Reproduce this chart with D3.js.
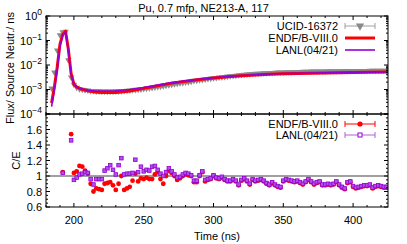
<!DOCTYPE html>
<html><head><meta charset="utf-8">
<script src="https://cdn.jsdelivr.net/npm/d3@7"></script>
<style>body{margin:0;background:#fff}svg{display:block;font-family:"Liberation Sans",Arial,sans-serif}</style>
</head><body><svg id="c" width="407" height="244"></svg>
<script>
// ---------- data ----------
const title = "Pu, 0.7 mfp, NE213-A, 117";
const xTicks = [200, 250, 300, 350, 400];
const yTopTicks = [-4, -3, -2, -1, 0];
const yBotTicks = [0.6, 0.8, 1, 1.2, 1.4, 1.6];

// experiment (UCID-16372)
const expTimes = [184,186,188,190,192,194,196,198,200,202,204,206,208,210,212,214,216,218,220,222,224,226,228,230,232,234,236,238,240,242,244,246,248,250,252,254,256,258,260,262,264,266,268,270,272,274,276,278,280,282,284,286,288,290,292,294,296,298,300,302,304,306,308,310,312,314,316,318,320,322,324,326,328,330,332,334,336,338,340,342,344,346,348,350,352,354,356,358,360,362,364,366,368,370,372,374,376,378,380,382,384,386,388,390,392,394,396,398,400,402,404,406,408,410,412,414,416,418,420,422,424];
const expFlux = [1.12e-3,5.0e-3,0.040,0.166,0.219,0.229,0.0158,3.16e-3,1.58e-3,1.20e-3,1.05e-3,1.00e-3,9.5e-4,9.3e-4,8.9e-4,8.9e-4,8.5e-4,8.5e-4,8.3e-4,8.3e-4,8.3e-4,8.3e-4,8.3e-4,8.5e-4,8.5e-4,8.7e-4,8.9e-4,9.1e-4,9.3e-4,9.5e-4,9.8e-4,1.00e-3,1.02e-3,1.07e-3,1.10e-3,1.15e-3,1.17e-3,1.23e-3,1.29e-3,1.32e-3,1.38e-3,1.45e-3,1.51e-3,1.58e-3,1.66e-3,1.74e-3,1.82e-3,1.86e-3,1.95e-3,2.04e-3,2.14e-3,2.29e-3,2.34e-3,2.45e-3,2.51e-3,2.63e-3,2.75e-3,2.82e-3,2.95e-3,3.02e-3,3.16e-3,3.24e-3,3.31e-3,3.47e-3,3.55e-3,3.63e-3,3.72e-3,3.89e-3,3.98e-3,4.07e-3,4.17e-3,4.27e-3,4.37e-3,4.47e-3,4.47e-3,4.57e-3,4.68e-3,4.68e-3,4.79e-3,4.79e-3,4.90e-3,5.01e-3,5.01e-3,5.01e-3,5.13e-3,5.13e-3,5.13e-3,5.25e-3,5.25e-3,5.25e-3,5.37e-3,5.37e-3,5.37e-3,5.50e-3,5.50e-3,5.50e-3,5.50e-3,5.50e-3,5.50e-3,5.62e-3,5.62e-3,5.62e-3,5.62e-3,5.62e-3,5.62e-3,5.75e-3,5.75e-3,5.75e-3,5.75e-3,5.75e-3,5.75e-3,5.75e-3,5.75e-3,5.75e-3,5.89e-3,5.89e-3,5.89e-3,5.89e-3,5.89e-3,5.89e-3,5.89e-3];

// calculations (flux)
const calcTimes = [184,186,188,190,192,194,196,198,200,202,205,210,215,220,230,240,250,260,270,280,290,300,310,320,330,340,350,360,370,380,390,400,410,425];
const endfFlux = [2.8e-4,1.26e-3,7.9e-3,0.071,0.178,0.240,0.0447,4.47e-3,1.66e-3,1.26e-3,1.05e-3,8.9e-4,7.9e-4,7.6e-4,7.6e-4,8.7e-4,1.12e-3,1.41e-3,1.82e-3,2.19e-3,2.57e-3,2.95e-3,3.31e-3,3.63e-3,3.89e-3,4.17e-3,4.37e-3,4.47e-3,4.57e-3,4.68e-3,4.79e-3,4.90e-3,5.01e-3,5.13e-3];
const lanlFlux = [2.0e-4,1.00e-3,6.3e-3,0.056,0.158,0.229,0.0398,4.17e-3,1.58e-3,1.26e-3,1.07e-3,9.3e-4,8.7e-4,8.7e-4,8.9e-4,1.00e-3,1.20e-3,1.51e-3,1.91e-3,2.24e-3,2.63e-3,3.02e-3,3.39e-3,3.72e-3,3.98e-3,4.27e-3,4.47e-3,4.57e-3,4.68e-3,4.79e-3,4.90e-3,5.01e-3,5.13e-3,5.25e-3];

// C/E
const ceTimes = [192,198,200,202,204,206,208,210,212,214,216,218,220,222,224,226,228,230,232,234,236,238,240,242,244,246,248,250,252,254,256,258,260,262,264,266,268,270,272,274,276,278,280,282,284,286,288,290,292,294,296,298,300,302,304,306,308,310,312,314,316,318,320,322,324,326,328,330,332,334,336,338,340,342,344,346,348,350,352,354,356,358,360,362,364,366,368,370,372,374,376,378,380,382,384,386,388,390,392,394,396,398,400,402,404,406,408,410,412,414,416,418,420,422,424];
const ceEndf = [1.05,1.54,1.04,1.06,1.13,1.12,1.07,1.03,0.90,0.80,0.84,0.83,0.82,0.90,0.91,0.92,0.88,0.82,0.90,1.00,0.82,0.84,0.86,0.94,1.03,0.93,0.97,0.96,0.98,0.96,0.96,1.02,1.05,0.96,0.90,1.00,1.07,1.04,1.00,0.95,0.97,1.00,1.02,1.01,1.00,0.92,0.92,1.00,1.05,0.93,0.95,0.96,1.00,0.97,0.96,0.98,0.95,0.93,0.93,0.95,0.93,0.88,0.94,0.96,0.93,0.89,0.95,0.93,0.94,0.95,0.93,0.90,0.88,0.91,0.88,0.86,0.85,0.93,0.95,0.94,0.93,0.92,0.93,0.91,0.89,0.92,0.95,0.92,0.89,0.91,0.92,0.88,0.88,0.89,0.88,0.89,0.92,0.88,0.85,0.83,0.91,0.92,0.86,0.84,0.85,0.86,0.87,0.87,0.88,0.84,0.86,0.87,0.86,0.85,0.85];
const ceLanl = [1.04,1.46,0.95,0.98,1.02,1.03,1.05,1.04,0.96,0.89,0.96,0.96,0.96,1.07,1.10,1.14,1.08,1.02,1.14,1.23,1.02,1.03,1.03,1.04,1.21,1.05,1.12,1.06,1.08,1.07,1.12,1.13,1.08,1.03,1.00,1.05,1.10,1.06,1.02,0.98,0.99,1.02,1.04,1.03,1.01,0.94,0.94,1.01,1.06,0.95,0.96,0.97,1.01,0.98,0.97,0.99,0.96,0.94,0.94,0.96,0.94,0.89,0.95,0.97,0.94,0.90,0.96,0.94,0.95,0.96,0.94,0.91,0.89,0.92,0.89,0.87,0.86,0.94,0.96,0.95,0.94,0.93,0.94,0.92,0.90,0.93,0.96,0.93,0.90,0.92,0.93,0.89,0.89,0.90,0.89,0.90,0.93,0.89,0.86,0.84,0.92,0.93,0.87,0.85,0.86,0.87,0.88,0.88,0.89,0.85,0.87,0.88,0.87,0.86,0.86];

// ---------- drawing ----------
const svg = d3.select("#c");
const L = 46, R = 388, T1 = 16, B1 = 114, T2 = 114, B2 = 207;
const FS = 11;
const RED = "#ff0000", PUR = "#9400d3", GRY = "#8a8a8a";

const x = d3.scaleLinear().domain([180, 425]).range([L, R]);
const yT = d3.scaleLog().domain([1e-4, 1]).range([B1, T1]);
const yB = d3.scaleLinear().domain([0.6, 1.8]).range([B2, T2]);

const defs = svg.append("defs");
defs.append("clipPath").attr("id","cp1").append("rect").attr("x",L).attr("y",T1).attr("width",R-L).attr("height",B1-T1);
defs.append("clipPath").attr("id","cp2").append("rect").attr("x",L).attr("y",T2).attr("width",R-L).attr("height",B2-T2);

// title
svg.append("text").attr("x", 203.5).attr("y", 12).attr("text-anchor","middle")
  .attr("font-size", FS).text(title);

// ---- top panel
const g1 = svg.append("g").attr("clip-path","url(#cp1)");
const tri = d3.symbol().type(d3.symbolTriangle).size(18);
const expPts = expTimes.map((t,i)=>({t, v:expFlux[i]}));
g1.selectAll(".eb").data(expPts).join("line")
  .attr("x1", d=>x(d.t)).attr("x2", d=>x(d.t))
  .attr("y1", d=>yT(d.v*1.12)).attr("y2", d=>yT(d.v/1.12))
  .attr("stroke", GRY).attr("stroke-width", 1);
g1.selectAll(".tri").data(expPts).join("path")
  .attr("d", tri).attr("fill", GRY)
  .attr("transform", d=>`translate(${x(d.t)},${yT(d.v)}) rotate(180)`);

const lineT = d3.line().x(d=>x(d[0])).y(d=>yT(d[1]));
g1.append("path").attr("d", lineT(calcTimes.map((t,i)=>[t, endfFlux[i]])))
  .attr("fill","none").attr("stroke",RED).attr("stroke-width",3).attr("stroke-linejoin","round");
g1.append("path").attr("d", lineT(calcTimes.map((t,i)=>[t, lanlFlux[i]])))
  .attr("fill","none").attr("stroke",PUR).attr("stroke-width",1.6).attr("stroke-linejoin","round");

// ---- bottom panel
const g2 = svg.append("g").attr("clip-path","url(#cp2)");
g2.append("line").attr("x1",L).attr("x2",R).attr("y1",yB(1)).attr("y2",yB(1))
  .attr("stroke","#a0a0a0").attr("stroke-width",2);
g2.selectAll(".ce1").data(ceTimes.map((t,i)=>({t, v:ceEndf[i]}))).join("circle")
  .attr("cx", d=>x(d.t)).attr("cy", d=>yB(d.v)).attr("r", 2.4).attr("fill", RED);
g2.selectAll(".ce2").data(ceTimes.map((t,i)=>({t, v:ceLanl[i]}))).join("rect")
  .attr("x", d=>x(d.t)-1.8).attr("y", d=>yB(d.v)-1.8).attr("width",3.6).attr("height",3.6)
  .attr("fill", "#b050e8").attr("stroke", PUR).attr("stroke-width",0.8);

// ---- frames and ticks
const axG = svg.append("g").attr("stroke","#000").attr("stroke-width",1).attr("fill","none");
axG.append("rect").attr("x",L).attr("y",T1).attr("width",R-L).attr("height",B1-T1);
axG.append("rect").attr("x",L).attr("y",T2).attr("width",R-L).attr("height",B2-T2);

const xMinor = d3.range(180, 426, 10);
function xTicksOn(yEdge, dir) {
  xMinor.forEach(v => {
    const major = v % 50 === 0;
    const len = major ? 4 : 2;
    axG.append("line").attr("x1",x(v)).attr("x2",x(v)).attr("y1",yEdge).attr("y2",yEdge+dir*len);
  });
}
xTicksOn(B1, -1); xTicksOn(T2, 1); xTicksOn(B2, -1); xTicksOn(T1, 1);

yTopTicks.forEach(e => {
  const v = Math.pow(10, e);
  [L, R].forEach((xe, k) => {
    const d = k === 0 ? 1 : -1;
    axG.append("line").attr("x1",xe).attr("x2",xe+d*4).attr("y1",yT(v)).attr("y2",yT(v));
    if (e < 0) for (let m = 2; m <= 9; m++) {
      axG.append("line").attr("x1",xe).attr("x2",xe+d*2).attr("y1",yT(m*v)).attr("y2",yT(m*v));
    }
  });
});
d3.range(0.6, 1.8001, 0.05).forEach(v => {
  const vr = Math.round(v*100)/100;
  const major = Math.round(vr*100) % 20 === 0;
  [L, R].forEach((xe, k) => {
    const d = k === 0 ? 1 : -1;
    axG.append("line").attr("x1",xe).attr("x2",xe+d*(major?4:2)).attr("y1",yB(vr)).attr("y2",yB(vr));
  });
});

// ---- tick labels
const lab = svg.append("g").attr("font-size", FS).attr("fill","#000");
xTicks.forEach(v => lab.append("text").attr("x", x(v)).attr("y", 224).attr("text-anchor","middle").text(v));
yBotTicks.forEach(v => lab.append("text").attr("x", 42).attr("y", yB(v)+4).attr("text-anchor","end").text(v));
yTopTicks.forEach(e => {
  const t = lab.append("text").attr("x", 42).attr("y", yT(Math.pow(10,e))+4).attr("text-anchor","end");
  t.append("tspan").text("10");
  t.append("tspan").attr("dy", -5).attr("font-size", 8.5).text(e === 0 ? "0" : "\u2212" + (-e));
});

// axis titles
svg.append("text").attr("transform", `translate(14,${(T1+B1)/2+3}) rotate(-90)`)
  .attr("text-anchor","middle").attr("font-size", FS).text("Flux/ Source Neutr./ ns");
svg.append("text").attr("transform", `translate(20,${(T2+B2)/2}) rotate(-90)`)
  .attr("text-anchor","middle").attr("font-size", FS).text("C/E");
svg.append("text").attr("x", (L+R)/2).attr("y", 240).attr("text-anchor","middle")
  .attr("font-size", FS).text("Time (ns)");

// ---- legends
const lg = svg.append("g").attr("font-size", FS);
const sx1 = 345, sx2 = 375, smid = 360;
function legText(y, s) { lg.append("text").attr("x", 338).attr("y", y+4).attr("text-anchor","end").text(s); }
function caps(y, col) {
  [sx1, sx2].forEach(xx => lg.append("line").attr("x1",xx).attr("x2",xx).attr("y1",y-3).attr("y2",y+3).attr("stroke",col).attr("stroke-width",1));
}
legText(26, "UCID-16372");
lg.append("line").attr("x1",sx1).attr("x2",sx2).attr("y1",26).attr("y2",26).attr("stroke","#a0a0a0").attr("stroke-width",1);
caps(26, "#a0a0a0");
lg.append("path").attr("d", d3.symbol().type(d3.symbolTriangle).size(30)).attr("fill", GRY)
  .attr("transform", `translate(${smid},26) rotate(180)`);
legText(38, "ENDF/B-VIII.0");
lg.append("line").attr("x1",sx1).attr("x2",sx2).attr("y1",38).attr("y2",38).attr("stroke",RED).attr("stroke-width",3);
legText(50, "LANL(04/21)");
lg.append("line").attr("x1",sx1).attr("x2",sx2).attr("y1",50).attr("y2",50).attr("stroke",PUR).attr("stroke-width",1.6);
legText(124, "ENDF/B-VIII.0");
lg.append("line").attr("x1",sx1).attr("x2",sx2).attr("y1",124).attr("y2",124).attr("stroke",RED).attr("stroke-width",1);
caps(124, RED);
lg.append("circle").attr("cx",smid).attr("cy",124).attr("r",2.6).attr("fill",RED);
legText(135, "LANL(04/21)");
lg.append("line").attr("x1",sx1).attr("x2",sx2).attr("y1",135).attr("y2",135).attr("stroke","#b060e0").attr("stroke-width",1);
caps(135, "#b060e0");
lg.append("rect").attr("x",smid-2).attr("y",133).attr("width",4).attr("height",4).attr("fill","#fff").attr("stroke",PUR).attr("stroke-width",1);
</script></body></html>
